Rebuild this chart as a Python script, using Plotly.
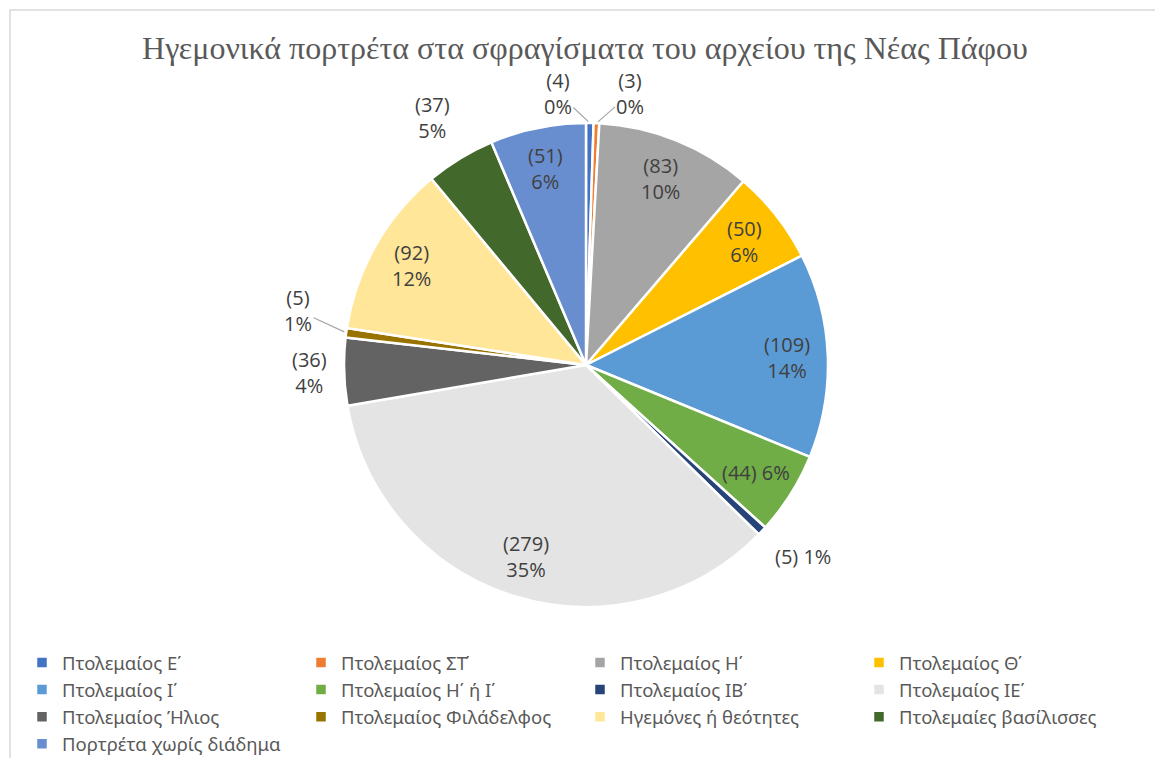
import math
import plotly.graph_objects as go

title = "Ηγεμονικά πορτρέτα στα σφραγίσματα του αρχείου της Νέας Πάφου"
categories = [
    "Πτολεμαίος Ε΄", "Πτολεμαίος ΣΤ΄", "Πτολεμαίος Η΄", "Πτολεμαίος Θ΄",
    "Πτολεμαίος Ι΄", "Πτολεμαίος Η΄ ή Ι΄", "Πτολεμαίος ΙΒ΄", "Πτολεμαίος ΙΕ΄",
    "Πτολεμαίος Ήλιος", "Πτολεμαίος Φιλάδελφος", "Ηγεμόνες ή θεότητες",
    "Πτολεμαίες βασίλισσες", "Πορτρέτα χωρίς διάδημα",
]
values = [4, 3, 83, 50, 109, 44, 5, 279, 36, 5, 92, 37, 51]
percent_labels = ["0%", "0%", "10%", "6%", "14%", "6%", "1%", "35%", "4%", "1%", "12%", "5%", "6%"]
colors = ["#4472C4", "#ED7D31", "#A5A5A5", "#FFC000", "#5B9BD5", "#70AD47", "#264478",
          "#E4E4E4", "#636363", "#997300", "#FFE699", "#43682B", "#698ED0"]

# label styling
single_line = {5, 6}
outside = {6, 8, 11}
leader_offsets = {0: (-32, -30), 1: (34, -30), 9: (-48, -22)}  # label offset in px for leader-line labels

W, H = 1155, 758
cx, cy, r = 586, 365, 242
inside_frac = 0.83
gap = 15

label_font = dict(family="Open Sans", size=20, color="#404040")

fig = go.Figure(go.Pie(
    labels=categories, values=values, textinfo="none",
    sort=False, direction="clockwise", rotation=0,
    marker=dict(colors=colors, line=dict(color="white", width=2.5)),
    domain=dict(x=[(cx - r) / W, (cx + r) / W], y=[1 - (cy + r) / H, 1 - (cy - r) / H]),
    hoverinfo="label+value",
))

total = sum(values)
annotations = []
cum = 0
for i, (v, p) in enumerate(zip(values, percent_labels)):
    mid = (cum + v / 2) / total * 2 * math.pi
    cum += v
    s, c = math.sin(mid), math.cos(mid)
    txt = f"({v}) {p}" if i in single_line else f"({v})<br>{p}"
    if i in leader_offsets:
        px, py = cx + r * s, cy - r * c
        ax, ay = leader_offsets[i]
        annotations.append(dict(x=px / W, y=1 - py / H, xref="paper", yref="paper", text=txt,
                                showarrow=True, arrowhead=0, arrowwidth=1.2, arrowcolor="#A6A6A6",
                                ax=ax, ay=ay, standoff=2, font=label_font, align="center"))
    elif i in outside:
        d = r + gap
        px, py = cx + d * s, cy - d * c
        xa = "left" if s > 0.3 else ("right" if s < -0.3 else "center")
        ya = "bottom" if c > 0.3 else ("top" if c < -0.3 else "middle")
        annotations.append(dict(x=px / W, y=1 - py / H, xref="paper", yref="paper", text=txt,
                                showarrow=False, xanchor=xa, yanchor=ya, font=label_font, align="center"))
    else:
        d = r * inside_frac
        px, py = cx + d * s, cy - d * c
        annotations.append(dict(x=px / W, y=1 - py / H, xref="paper", yref="paper", text=txt,
                                showarrow=False, xanchor="center", yanchor="middle",
                                font=label_font, align="center"))

fig.update_layout(
    width=W, height=H, margin=dict(l=0, r=0, t=0, b=0, autoexpand=False),
    paper_bgcolor="white", plot_bgcolor="white",
    title=dict(text=title, x=585 / W, xanchor="center", y=1 - 48 / H, yanchor="middle",
               font=dict(family="Liberation Serif", size=32, color="#595959")),
    legend=dict(orientation="h", x=22 / W, xanchor="left", y=1 - 644 / H, yanchor="top",
                entrywidth=234, entrywidthmode="pixels",
                font=dict(family="Noto Sans", size=18.5, color="#595959"),
                tracegroupgap=0, traceorder="normal"),
    annotations=annotations,
    shapes=[dict(type="rect", xref="paper", yref="paper",
                 x0=10 / W, x1=1.05, y0=-0.05, y1=1 - 10 / H,
                 line=dict(color="#D9D9D9", width=1.5), fillcolor="rgba(0,0,0,0)")],
)

fig.write_html("out.html")
